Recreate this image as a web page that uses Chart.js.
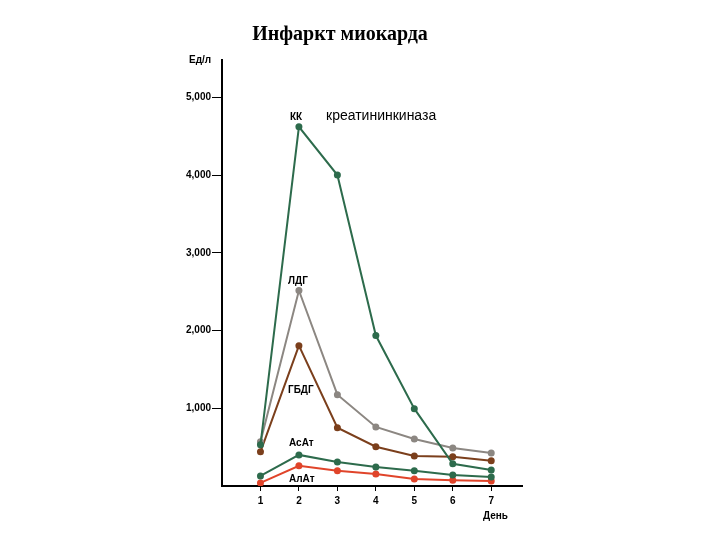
<!DOCTYPE html><html><head><meta charset="utf-8">
<script src="https://cdn.jsdelivr.net/npm/chart.js@4"></script>
<style>body{margin:0;background:#fff}#w{width:720px;height:540px}</style></head><body><div id="w"><canvas id="c"></canvas></div>
<script>
const days=[1,2,3,4,5,6,7];
const kk=[530,4620,4000,1935,995,285,205];
const ldg=[570,2515,1175,760,605,490,425];
const gbdg=[440,1805,750,505,385,375,325];
const asat=[130,400,310,245,195,140,115];
const alat=[40,260,195,155,90,75,65];
const yTicks=[1000,2000,3000,4000,5000];
const mk=(d,c)=>({data:days.map((x,i)=>({x,y:d[i]})),borderColor:c,backgroundColor:c,borderWidth:2,pointRadius:3.5,pointBorderWidth:0,tension:0});
const labels={id:'lbl',afterDraw(ch){const x=ch.ctx;x.save();x.fillStyle='#000';
x.font='bold 20px "Liberation Serif"';x.textAlign='center';x.fillText('Инфаркт миокарда',340,40);
x.font='bold 10px "Liberation Sans"';x.textAlign='left';
[['Ед/л',189,63],['КК',290,120],['ЛДГ',288,284],['ГБДГ',288,393],['АсАт',289,446],['АлАт',289,482],['День',483,519]].forEach(t=>x.fillText(t[0],t[1],t[2]));
x.font='14px "Liberation Sans"';x.fillText('креатининкиназа',326,120);x.restore();}};
new Chart(document.getElementById('c'),{type:'line',data:{datasets:[mk(kk,'#2d6b4c'),mk(ldg,'#8c8782'),mk(gbdg,'#7b3f1c'),mk(asat,'#2d6b4c'),mk(alat,'#e0442a')]},
options:{responsive:true,maintainAspectRatio:false,animation:false,plugins:{legend:{display:false},tooltip:{enabled:false}},
layout:{padding:{top:60,right:198,left:0,bottom:0}},
scales:{x:{type:'linear',min:0,max:7.8,afterBuildTicks(a){a.ticks=days.map(v=>({value:v}));},afterFit(a){a.height=54;},
border:{color:'#000',width:2},grid:{drawOnChartArea:false,tickLength:5,color:'#000'},ticks:{color:'#000',font:{size:10,weight:'bold',family:'Liberation Sans'},padding:4}},
y:{min:0,max:5480,afterBuildTicks(a){a.ticks=yTicks.map(v=>({value:v}));},afterFit(a){a.width=222;},
border:{color:'#000',width:2},grid:{drawOnChartArea:false,tickLength:10,color:'#000'},ticks:{color:'#000',font:{size:10,weight:'bold',family:'Liberation Sans'},padding:1}}}},
plugins:[labels]});
</script></body></html>
